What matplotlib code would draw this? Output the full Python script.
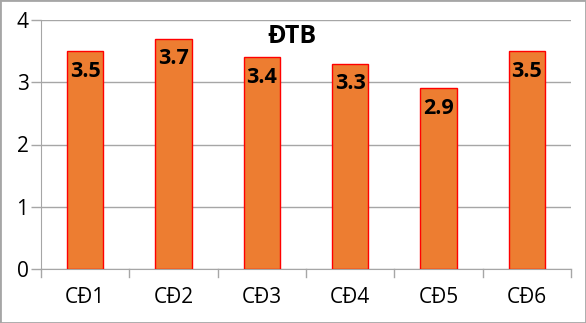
import matplotlib
matplotlib.use("Agg")
import matplotlib.pyplot as plt
from matplotlib.patches import Rectangle

categories = ["CĐ1", "CĐ2", "CĐ3", "CĐ4", "CĐ5", "CĐ6"]
values = [3.5, 3.7, 3.4, 3.3, 2.9, 3.5]
yticks = [0, 1, 2, 3, 4]
title = "ĐTB"

plt.rcParams["font.family"] = ["Open Sans", "DejaVu Sans"]

W, H = 586, 323
fig = plt.figure(figsize=(W / 100, H / 100), dpi=100)
ax = fig.add_axes([41 / W, 1 - 269 / H, (571 - 41) / W, (269 - 20) / H])

x = list(range(len(categories)))
ax.bar(x, values, width=0.41, color="#ED7D31", edgecolor="#FF0000",
       linewidth=1.0, zorder=3)

for xi, v in zip(x, values):
    ax.annotate(f"{v:.1f}", (xi, v), xytext=(0, -7), textcoords="offset points",
                ha="center", va="top", fontsize=15.5, fontweight="bold",
                color="black", zorder=4)

ax.set_xlim(-0.5, len(categories) - 0.5)
ax.set_ylim(0, 4)
ax.set_yticks(yticks)
ax.set_yticklabels([str(t) for t in yticks], fontsize=15)
ax.set_xticks(x)
ax.set_xticklabels(categories, fontsize=15)
ax.tick_params(axis="x", length=0, pad=13)
ax.tick_params(axis="y", length=7, width=1, color="#A6A6A6", pad=2)

# category boundary ticks below the baseline
for b in [i - 0.5 for i in range(len(categories) + 1)]:
    ax.plot([b, b], [0, -0.13], color="#A6A6A6", lw=1, clip_on=False, zorder=2)

ax.grid(axis="y", color="#A6A6A6", lw=1, zorder=0)
for side in ["top", "right"]:
    ax.spines[side].set_visible(False)
ax.spines["left"].set_color("#A6A6A6")
ax.spines["bottom"].set_color("#A6A6A6")

ax.text(0.474, 0.985, title, transform=ax.transAxes, ha="center", va="top",
        fontsize=18, fontweight="bold")

fig.patches.append(Rectangle((0, 0), 1, 1, transform=fig.transFigure,
                             fill=False, edgecolor="#A6A6A6", lw=2))

fig.savefig("out.png", dpi=100)
